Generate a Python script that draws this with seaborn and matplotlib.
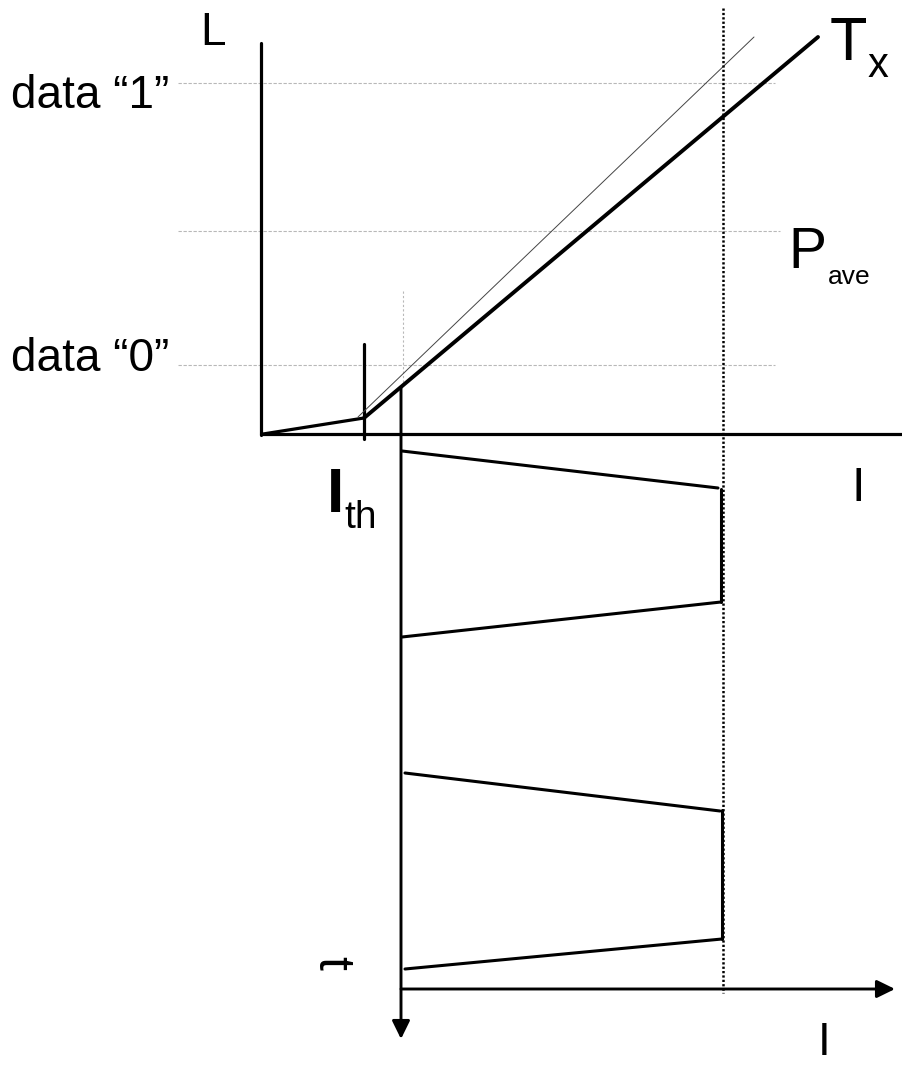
import matplotlib
matplotlib.use("Agg")
import matplotlib.pyplot as plt
import seaborn as sns
import pandas as pd

sns.set_theme(style="white")
plt.rcParams["font.family"] = ["Liberation Sans", "DejaVu Sans"]

# ---------------- data (diagram units = canvas pixels, y downward) ----------
# Upper panel: light output L versus drive current I
l_axis_x = [261, 261]
l_axis_y = [43, 435]
i_axis_x = [261, 902]
i_axis_y = [434, 434]
below_th_x = [263, 364]          # spontaneous emission below threshold
below_th_y = [434, 418]
tx_x = [364, 818]                 # laser L-I curve (Tx)
tx_y = [418, 37]
ref_x = [358, 754]                # thin reference curve
ref_y = [417, 37]
ith_x = [364, 364]                # threshold marker
ith_y = [344, 439]

# Reference levels: data "1", P_ave, data "0"
level_names = ['data "1"', "P_ave", 'data "0"']
level_y = [83, 231, 365]
level_x0 = [178, 178, 178]
level_x1 = [775, 780, 775]

bias_guide_x = [403, 403]         # light dotted guide at bias current
bias_guide_y = [291, 388]
peak_x = [723, 723]               # black dotted line at peak current
peak_y = [8, 993]

# Lower panel: modulation current versus time
t_axis_x = [401, 401]
t_axis_y = [388, 1039]
time_i_axis_x = [401, 895]
time_i_axis_y = [989, 989]

pulse1_x = [[402, 718], [721, 721], [402, 721]]
pulse1_y = [[451, 488], [489, 602], [637, 602]]
pulse2_x = [[405, 720], [722, 722], [405, 722]]
pulse2_y = [[773, 811], [810, 939], [969, 939]]


def segs(xs_list, ys_list, tag):
    rows = []
    for k, (xs, ys) in enumerate(zip(xs_list, ys_list)):
        for x, y in zip(xs, ys):
            rows.append({"x": x, "y": y, "seg": f"{tag}{k}"})
    return pd.DataFrame(rows)


def draw(df, **kw):
    sns.lineplot(data=df, x="x", y="y", units="seg", estimator=None,
                 sort=False, legend=False, ax=ax, **kw)


fig = plt.figure(figsize=(9.02, 10.66), dpi=100)
ax = fig.add_axes([0, 0, 1, 1])
ax.set_xlim(0, 902)
ax.set_ylim(1066, 0)
ax.axis("off")

# gray dashed level lines
lv = segs([[a, b] for a, b in zip(level_x0, level_x1)],
          [[y, y] for y in level_y], "lv")
draw(lv, color="#b8b8b8", linewidth=0.8, linestyle=(0, (3, 1.5)))
draw(segs([bias_guide_x], [bias_guide_y], "bg"), color="#b8b8b8",
     linewidth=0.8, linestyle=(0, (2, 2)))

# axes of the L-I plot
draw(segs([l_axis_x, i_axis_x], [l_axis_y, i_axis_y], "ax"),
     color="black", linewidth=2.3)
draw(segs([below_th_x, ith_x], [below_th_y, ith_y], "bt"),
     color="black", linewidth=2.3)
draw(segs([ref_x], [ref_y], "rf"), color="#444444", linewidth=0.7)
draw(segs([tx_x], [tx_y], "tx"), color="black", linewidth=2.8)

# pulses
draw(segs(pulse1_x + pulse2_x, pulse1_y + pulse2_y, "p"),
     color="black", linewidth=2.2)

# peak current dotted line
draw(segs([peak_x], [peak_y], "pk"), color="black", linewidth=1.8,
     linestyle=(0, (0.9, 0.85)), dash_capstyle="butt")

# arrows for time / current axes of the lower panel
arrow = dict(arrowstyle="-|>,head_length=0.55,head_width=0.27",
             color="black", lw=2.1, mutation_scale=20, shrinkA=0, shrinkB=0)
ax.annotate("", xy=(t_axis_x[1], t_axis_y[1]),
            xytext=(t_axis_x[0], t_axis_y[0]), arrowprops=arrow)
ax.annotate("", xy=(time_i_axis_x[1], time_i_axis_y[1]),
            xytext=(time_i_axis_x[0], time_i_axis_y[0]), arrowprops=arrow)

# ---------------- labels ----------------
txt = dict(color="black", ha="left", va="baseline")
ax.text(200, 45, "L", fontsize=33, **txt)
ax.text(11, 108, "data \u201c1\u201d", fontsize=33, **txt)
ax.text(11, 371, "data \u201c0\u201d", fontsize=33, **txt)
ax.text(830, 60, "T", fontsize=44, **txt)
ax.text(868, 77, "x", fontsize=30, **txt)
ax.text(788, 268, "P", fontsize=41, **txt)
ax.text(828, 284, "ave", fontsize=19, **txt)
ax.text(327, 512, "I", fontsize=45, fontweight="bold", **txt)
ax.text(344, 528, "th", fontsize=28, **txt)
ax.text(852, 501, "I", fontsize=35, **txt)
ax.text(818, 1055, "I", fontsize=33, **txt)
ax.text(318, 956, "t", fontsize=36, rotation=-90, rotation_mode="anchor",
        ha="left", va="baseline", color="black")

fig.savefig("out.png", dpi=100, facecolor="white")
